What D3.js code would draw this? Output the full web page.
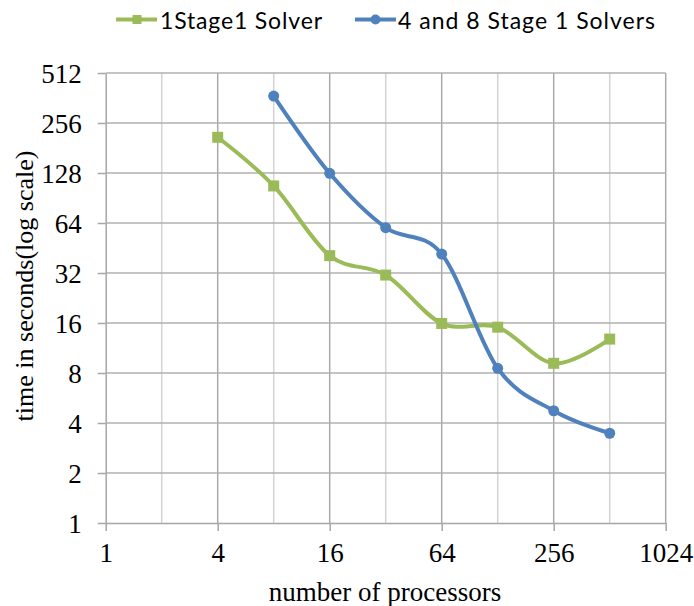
<!DOCTYPE html>
<html>
<head>
<meta charset="utf-8">
<script src="https://cdn.jsdelivr.net/npm/d3@7"></script>
<style>
  body { margin: 0; background: #fff; }
  svg { display: block; }
</style>
</head>
<body>
<svg id="chart" width="694" height="606"></svg>
<script>
// ---- data ----
const seriesNames = ["1Stage1 Solver", "4 and 8 Stage 1 Solvers"];
const greenProcs = [4, 8, 16, 32, 64, 128, 256, 512];
const greenTimes = [210, 107, 40.7, 31.1, 15.9, 15.1, 9.15, 12.8];
const blueProcs = [8, 16, 32, 64, 128, 256, 512];
const blueTimes = [372, 127.5, 60, 41.6, 8.54, 4.74, 3.47];
const xTickValues = [1, 4, 16, 64, 256, 1024];
const xMinorGrid = [2, 8, 32, 128, 512];
const yTickValues = [1, 2, 4, 8, 16, 32, 64, 128, 256, 512];
const xTitle = "number of processors";
const yTitle = "time in seconds(log scale)";

const svg = d3.select("#chart");
const pLeft = 105.7, pRight = 665.7, pTop = 73, pBottom = 523;

const x = d3.scaleLog().base(2).domain([1, 1024]).range([pLeft, pRight]);
const y = d3.scaleLog().base(2).domain([1, 512]).range([pBottom, pTop]);

const serif = "'Liberation Serif', 'Times New Roman', serif";

// grid: minor vertical
svg.append("g").selectAll("line").data(xMinorGrid).join("line")
  .attr("x1", d => x(d)).attr("x2", d => x(d))
  .attr("y1", pTop).attr("y2", pBottom)
  .attr("stroke", "#d3d3d3").attr("stroke-width", 1.5);
// grid: major vertical
svg.append("g").selectAll("line").data(xTickValues.slice(1)).join("line")
  .attr("x1", d => x(d)).attr("x2", d => x(d))
  .attr("y1", pTop).attr("y2", pBottom)
  .attr("stroke", "#a9a9a9").attr("stroke-width", 1.5);
// grid: horizontal
svg.append("g").selectAll("line").data(yTickValues.slice(1)).join("line")
  .attr("x1", pLeft).attr("x2", pRight)
  .attr("y1", d => y(d)).attr("y2", d => y(d))
  .attr("stroke", "#b0b0b0").attr("stroke-width", 1.5);

// axes
const xAxis = d3.axisBottom(x).tickValues(xTickValues).tickFormat(d3.format("d"))
  .tickSizeInner(8).tickSizeOuter(0).tickPadding(13);
const gx = svg.append("g").attr("transform", `translate(0,${pBottom})`).call(xAxis);
const yAxis = d3.axisLeft(y).tickValues(yTickValues).tickFormat(d3.format("d"))
  .tickSizeInner(8).tickSizeOuter(0).tickPadding(16);
const gy = svg.append("g").attr("transform", `translate(${pLeft},0)`).call(yAxis);

[gx, gy].forEach(g => {
  g.select(".domain").attr("stroke", "#a6a6a6").attr("stroke-width", 1.5);
  g.selectAll(".tick line").attr("stroke", "#a6a6a6").attr("stroke-width", 1.5);
  g.selectAll(".tick text").attr("fill", "#000")
    .style("font-family", serif).style("font-size", "27px");
});
gx.selectAll(".tick text").attr("dy", "0.68em");
gy.selectAll(".tick text").attr("dy", "0.34em");

// axis titles
svg.append("text").attr("x", 385).attr("y", 601)
  .attr("text-anchor", "middle")
  .style("font-family", serif).style("font-size", "27px")
  .text(xTitle);
svg.append("text")
  .attr("transform", `translate(33,${286}) rotate(-90)`)
  .attr("text-anchor", "middle")
  .style("font-family", serif).style("font-size", "26px")
  .text(yTitle);

// series
const line = d3.line().curve(d3.curveCardinal.tension(0))
  .x(d => x(d[0])).y(d => y(d[1]));
const green = "#9BBB59", blue = "#4F81BD";
const gData = d3.zip(greenProcs, greenTimes);
const bData = d3.zip(blueProcs, blueTimes);

svg.append("path").datum(gData).attr("d", line)
  .attr("fill", "none").attr("stroke", green).attr("stroke-width", 4)
  .attr("stroke-linejoin", "round").attr("stroke-linecap", "round");
svg.append("path").datum(bData).attr("d", line)
  .attr("fill", "none").attr("stroke", blue).attr("stroke-width", 4)
  .attr("stroke-linejoin", "round").attr("stroke-linecap", "round");

svg.append("g").selectAll("rect").data(gData).join("rect")
  .attr("x", d => x(d[0]) - 5.5).attr("y", d => y(d[1]) - 5.5)
  .attr("width", 11).attr("height", 11).attr("fill", green);
svg.append("g").selectAll("circle").data(bData).join("circle")
  .attr("cx", d => x(d[0])).attr("cy", d => y(d[1])).attr("r", 5.5)
  .attr("fill", blue);

// legend
const sans = "Lato, 'Liberation Sans', sans-serif";
const legY = 19.5;
const lg = svg.append("g");
lg.append("line").attr("x1", 116).attr("x2", 157).attr("y1", legY).attr("y2", legY)
  .attr("stroke", green).attr("stroke-width", 4);
lg.append("rect").attr("x", 137 - 4.5).attr("y", legY - 4.5).attr("width", 9).attr("height", 9)
  .attr("fill", green);
lg.append("text").attr("x", 160).attr("y", 28.5)
  .attr("textLength", 162).attr("lengthAdjust", "spacing")
  .style("font-family", sans).style("font-size", "23px").text(seriesNames[0]);
lg.append("line").attr("x1", 355).attr("x2", 396).attr("y1", legY).attr("y2", legY)
  .attr("stroke", blue).attr("stroke-width", 4);
lg.append("circle").attr("cx", 375.5).attr("cy", legY).attr("r", 5)
  .attr("fill", blue);
lg.append("text").attr("x", 398).attr("y", 28.5)
  .attr("textLength", 257).attr("lengthAdjust", "spacing")
  .style("font-family", sans).style("font-size", "23px").text(seriesNames[1]);
</script>
</body>
</html>
